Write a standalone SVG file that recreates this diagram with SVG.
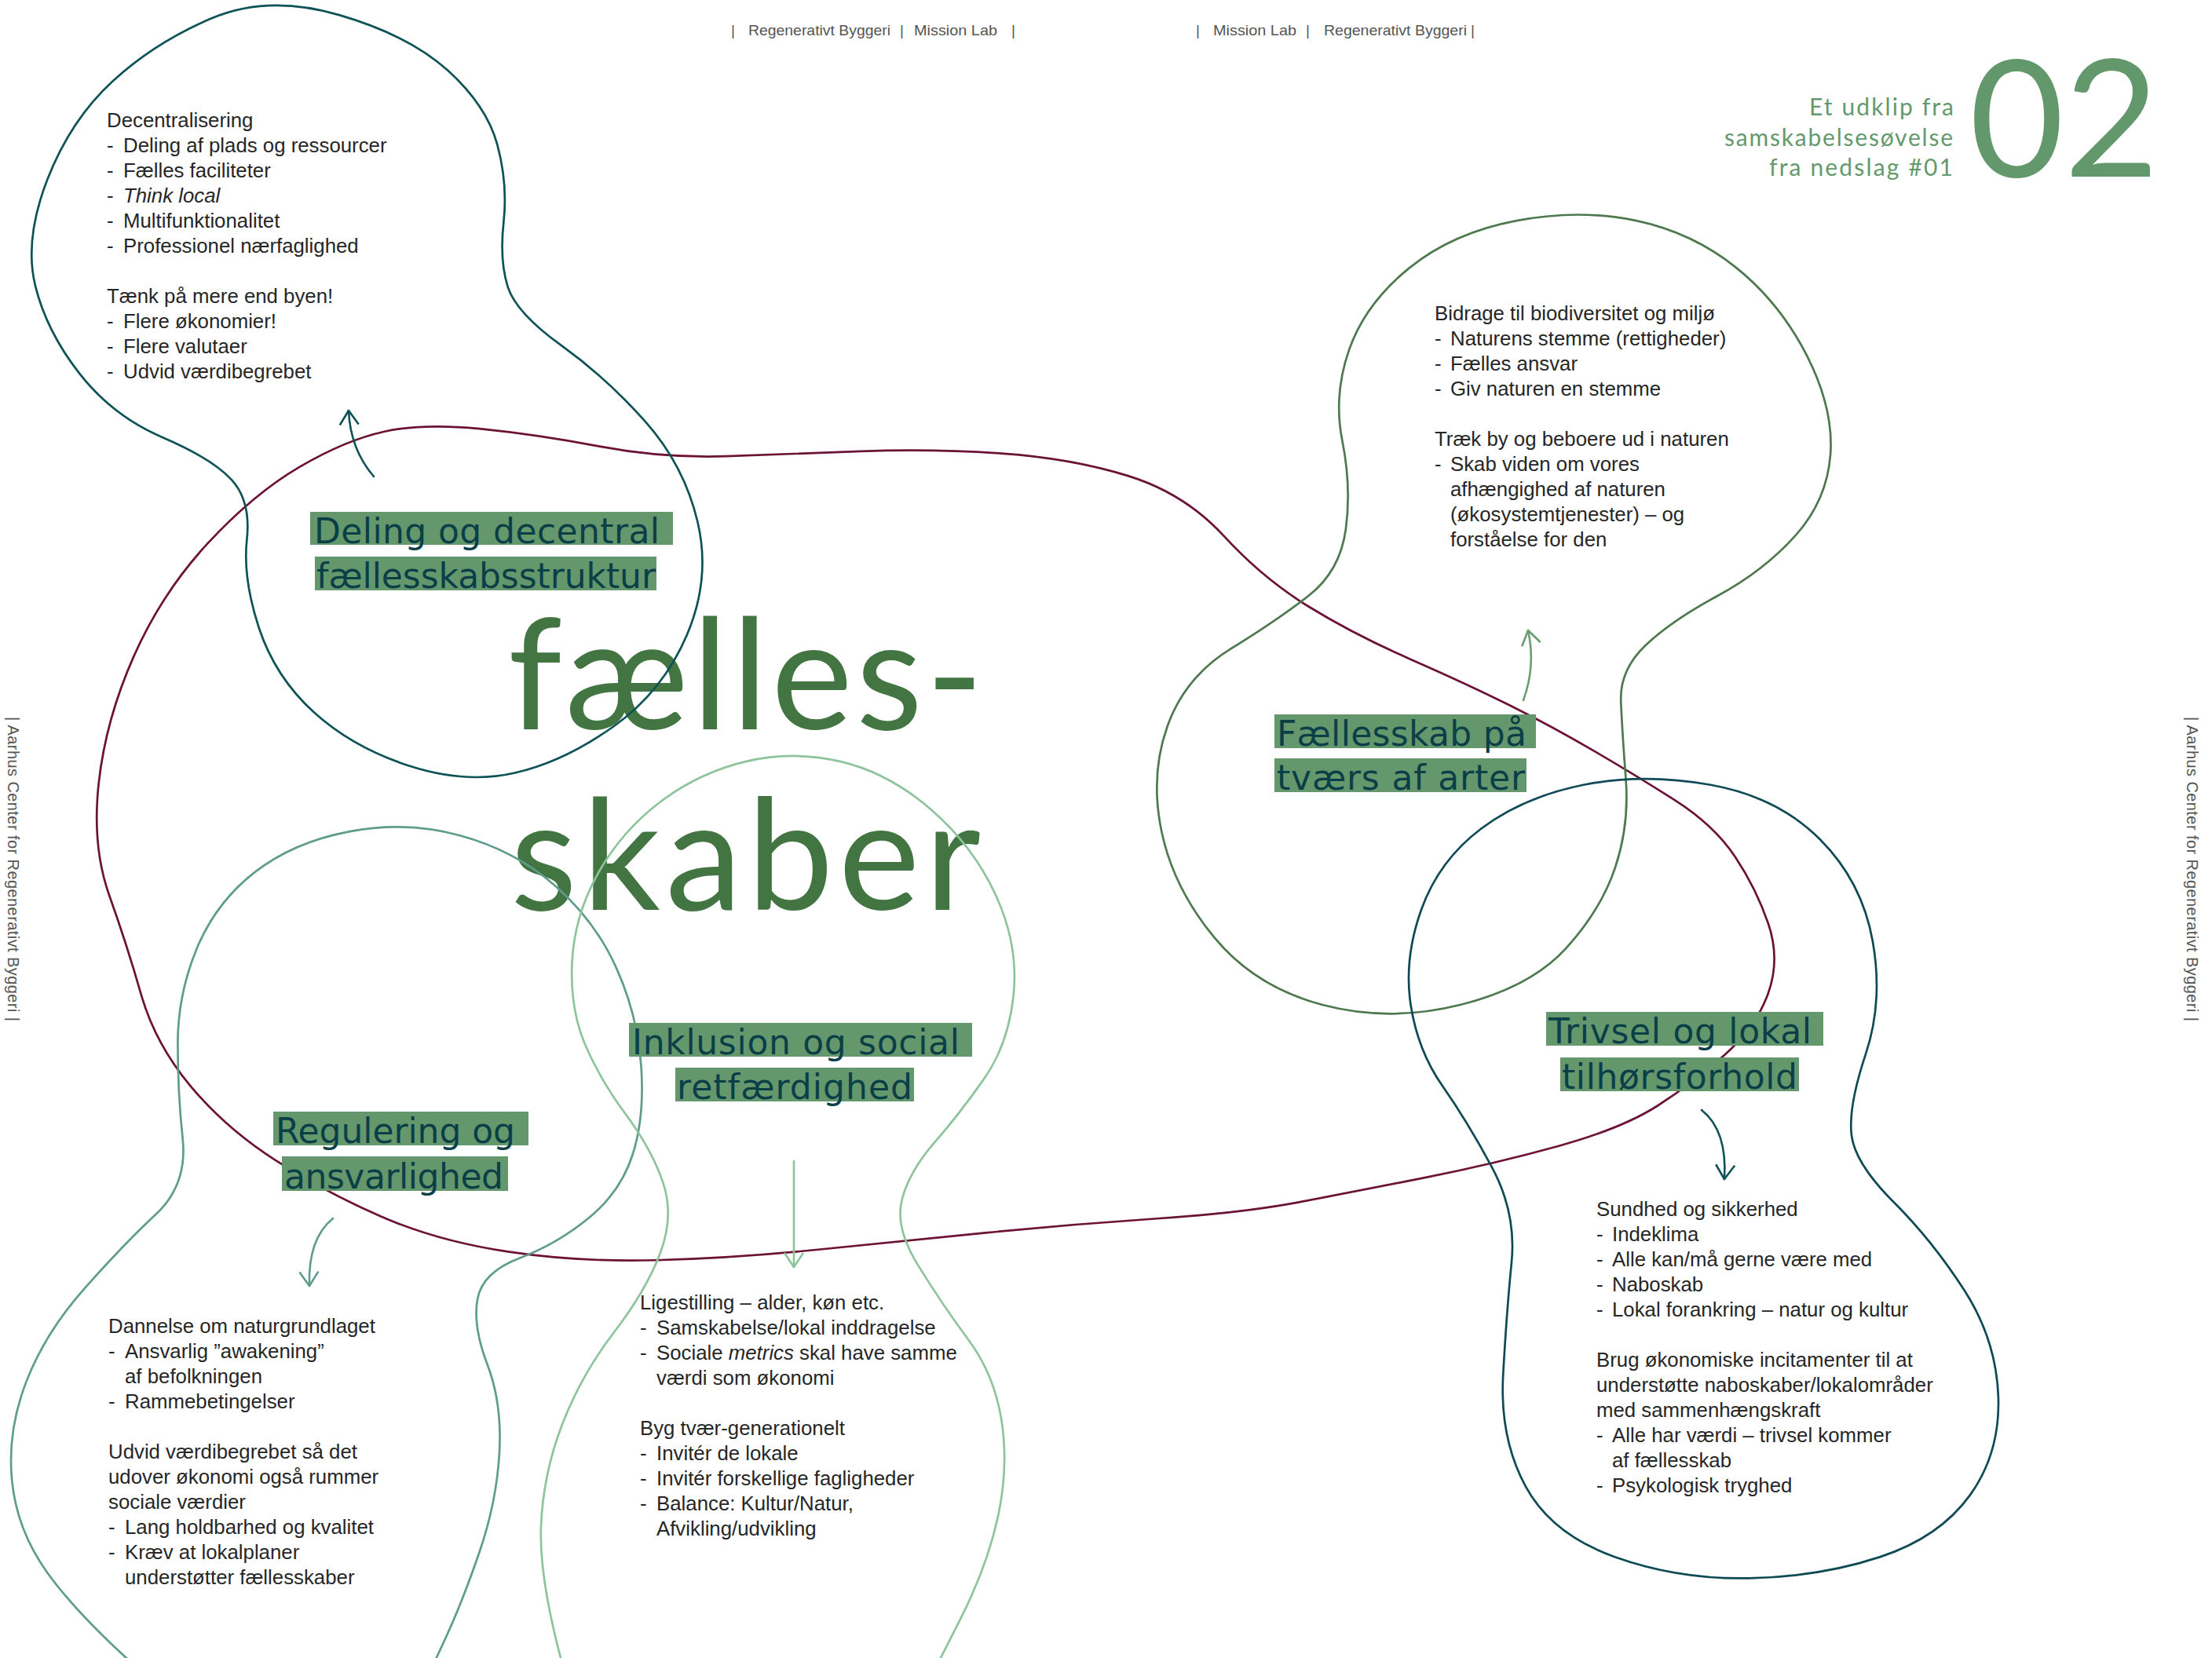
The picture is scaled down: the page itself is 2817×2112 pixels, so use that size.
<svg xmlns="http://www.w3.org/2000/svg" width="2817" height="2112" viewBox="0 0 2817 2112">
<defs>
<style>
.body{font-family:"Liberation Sans",Arial,sans-serif;font-size:25.8px;fill:#262626}
.hdr{font-family:"Liberation Sans",Arial,sans-serif;font-size:19px;fill:#555555}
.side{font-family:"Liberation Sans",Arial,sans-serif;font-size:20px;fill:#555555}
.lbg{fill:#65976d}
.lbl{font-family:"DejaVu Sans","Noto Sans",sans-serif;font-size:44px;fill:#0b3f48}
.big{font-family:Lato,"Noto Sans",sans-serif;font-size:196px;fill:#437543}
.sub{font-family:Lato,"Noto Sans",sans-serif;font-size:30px;fill:#64996d}
.ol{fill:none;stroke-width:1.5;stroke-linejoin:round}
.arr{fill:none;stroke-width:2.6;stroke-linecap:round}
</style>
<marker id="ah-teal" viewBox="0 0 24 28" refX="20" refY="14" markerWidth="24" markerHeight="28" markerUnits="userSpaceOnUse" orient="auto"><path d="M2,2 L20,14 L2,26" fill="none" stroke="#0d5257" stroke-width="2.6" stroke-linejoin="round"/></marker>
<marker id="ah-green" viewBox="0 0 24 28" refX="20" refY="14" markerWidth="24" markerHeight="28" markerUnits="userSpaceOnUse" orient="auto"><path d="M2,2 L20,14 L2,26" fill="none" stroke="#6a9e70" stroke-width="2.6" stroke-linejoin="round"/></marker>
<marker id="ah-light" viewBox="0 0 24 28" refX="20" refY="14" markerWidth="24" markerHeight="28" markerUnits="userSpaceOnUse" orient="auto"><path d="M2,2 L20,14 L2,26" fill="none" stroke="#8cc39b" stroke-width="2.6" stroke-linejoin="round"/></marker>
<marker id="ah-tg" viewBox="0 0 24 28" refX="20" refY="14" markerWidth="24" markerHeight="28" markerUnits="userSpaceOnUse" orient="auto"><path d="M2,2 L20,14 L2,26" fill="none" stroke="#5e9c8b" stroke-width="2.6" stroke-linejoin="round"/></marker>
</defs>
<rect width="2817" height="2112" fill="#ffffff"/>

<g id="header">
<text class="hdr" x="931" y="45">|</text>
<text class="hdr" x="953" y="45" textLength="181" lengthAdjust="spacingAndGlyphs">Regenerativt Byggeri</text>
<text class="hdr" x="1146" y="45">|</text>
<text class="hdr" x="1164" y="45" textLength="106" lengthAdjust="spacingAndGlyphs">Mission Lab</text>
<text class="hdr" x="1288" y="45">|</text>
<text class="hdr" x="1523" y="45">|</text>
<text class="hdr" x="1545" y="45" textLength="106" lengthAdjust="spacingAndGlyphs">Mission Lab</text>
<text class="hdr" x="1663" y="45">|</text>
<text class="hdr" x="1686" y="45" textLength="182" lengthAdjust="spacingAndGlyphs">Regenerativt Byggeri</text>
<text class="hdr" x="1873" y="45">|</text>
<text class="side" x="10" y="913" transform="rotate(90 10 913)" textLength="388" lengthAdjust="spacing">|  Aarhus Center for Regenerativt Byggeri  |</text>
<text class="side" x="2785" y="913" transform="rotate(90 2785 913)" textLength="388" lengthAdjust="spacing">|  Aarhus Center for Regenerativt Byggeri  |</text>
</g>

<g id="title">
<text x="2508" y="225" style="font-family:Lato,'Noto Sans',sans-serif;font-size:208px;fill:#63986c">02</text>
<text class="sub" x="2304" y="147" textLength="184" lengthAdjust="spacing">Et udklip fra</text>
<text class="sub" x="2196" y="186" textLength="291" lengthAdjust="spacing">samskabelsesøvelse</text>
<text class="sub" x="2253" y="224" textLength="234" lengthAdjust="spacing">fra nedslag #01</text>
<text class="big" x="647" y="929" textLength="605" lengthAdjust="spacing">fælles-</text>
<text class="big" x="650" y="1159" textLength="599" lengthAdjust="spacing">skaber</text>
</g>

<g id="outlines" transform="scale(1.79656)">
<path id="loop-faellesskaber" class="ol" stroke="#6b1236" d="M 272.5,306 Q 300,300 340,304 Q 380,308 425,316.5 Q 470,325 515,323.5 Q 560,322 610,320 Q 660,318 710,321.5 Q 760,325 800,337.5 Q 840,350 867.5,380 Q 895,410 927.5,430 Q 960,450 1000,467.5 Q 1040,485 1070,500 Q 1100,515 1130,532.5 Q 1160,550 1187.5,567.5 Q 1215,585 1230,607.5 Q 1245,630 1253.5,655 Q 1262,680 1253.5,704 Q 1245,728 1222.5,748 Q 1200,768 1175,784 Q 1150,800 1105,812.5 Q 1060,825 1010,835 Q 960,845 920,852.5 Q 880,860 820,864 Q 760,868 700,874 Q 640,880 580,886 Q 520,892 465,893.5 Q 410,895 360,887.5 Q 310,880 270,862.5 Q 230,845 195,822.5 Q 160,800 135,770 Q 110,740 100,705 Q 90,670 77.5,635 Q 65,600 70,555 Q 75,510 95,465 Q 115,420 147.5,385 Q 180,350 212.5,331 Q 245,312 272.5,306 Z"/>
<path id="blob-deling" class="ol" stroke="#0d5257" d="M 150,13 Q 190,-4 240,10.5 Q 290,25 317.5,50 Q 345,75 352.5,102.5 Q 360,130 357,157.5 Q 354,185 360,203.5 Q 366,222 398,245 Q 430,268 457.5,299 Q 485,330 494.5,370 Q 504,410 487,450 Q 470,490 435,515 Q 400,540 365,548 Q 330,556 290,543 Q 250,530 222.5,505 Q 195,480 183.5,445 Q 172,410 175,382.5 Q 178,355 164,340 Q 150,325 115,310 Q 80,295 56.5,265 Q 33,235 25,202.5 Q 17,170 33.5,127.5 Q 50,85 80,57.5 Q 110,30 150,13 Z"/>
<path id="blob-arter" class="ol" stroke="#4e784e" d="M 1075,156.5 Q 1120,148 1160,156.5 Q 1200,165 1231,190 Q 1262,215 1281,252.5 Q 1300,290 1297.5,322.5 Q 1295,355 1272.5,380 Q 1250,405 1217.5,422.5 Q 1185,440 1166.5,457.5 Q 1148,475 1149,497.5 Q 1150,520 1152.5,552.5 Q 1155,585 1145,615 Q 1135,645 1110,672.5 Q 1085,700 1035,712.5 Q 985,725 937.5,712.5 Q 890,700 861,665 Q 832,630 823.5,590 Q 815,550 827.5,515 Q 840,480 872.5,460 Q 905,440 927.5,422.5 Q 950,405 954,375 Q 958,345 951.5,312.5 Q 945,280 956.5,247.5 Q 968,215 999,190 Q 1030,165 1075,156.5 Z"/>
<path id="blob-trivsel" class="ol" stroke="#0e4a55" d="M 1122.5,556.5 Q 1165,548 1212.5,556.5 Q 1260,565 1290,595 Q 1320,625 1327.5,667.5 Q 1335,710 1322.5,747.5 Q 1310,785 1312.5,805 Q 1315,825 1342.5,852.5 Q 1370,880 1392.5,915 Q 1415,950 1416.5,990 Q 1418,1030 1396.5,1060 Q 1375,1090 1332.5,1104 Q 1290,1118 1240,1119 Q 1190,1120 1145,1104 Q 1100,1088 1081.5,1054 Q 1063,1020 1065.5,975 Q 1068,930 1071.5,895 Q 1075,860 1057.5,827.5 Q 1040,795 1022.5,770 Q 1005,745 1000,712.5 Q 995,680 1007.5,645 Q 1020,610 1050,587.5 Q 1080,565 1122.5,556.5 Z"/>
<path id="blob-regulering" class="ol" stroke="#5e9c8b" d="M 100,1185 Q 55,1145 33.5,1115 Q 12,1085 8.5,1050 Q 5,1015 18.5,980 Q 32,945 60,913.5 Q 88,882 110.5,861 Q 133,840 129.5,807.5 Q 126,775 126,740 Q 126,705 139.5,672.5 Q 153,640 180.5,618.5 Q 208,597 248,589.5 Q 288,582 326.5,592.5 Q 365,603 393.5,628 Q 422,653 437,686.5 Q 452,720 454.5,756 Q 457,792 448.5,818.5 Q 440,845 417.5,863.5 Q 395,882 368.5,892 Q 342,902 338.5,921 Q 335,940 345.5,967.5 Q 356,995 354,1030 Q 352,1065 340,1100 Q 328,1135 316.5,1160 L 305,1185"/>
<path id="blob-inklusion" class="ol" stroke="#8ec49c" d="M 400,1185 Q 382,1120 383.5,1082.5 Q 385,1045 398.5,1010 Q 412,975 435,945 Q 458,915 468,888.5 Q 478,862 470,838.5 Q 462,815 443.5,790 Q 425,765 414.5,740 Q 404,715 405.5,682.5 Q 407,650 423.5,620 Q 440,590 467.5,569 Q 495,548 528.5,540 Q 562,532 596,540 Q 630,548 660,574 Q 690,600 706,635 Q 722,670 718.5,705 Q 715,740 697.5,765 Q 680,790 662.5,810 Q 645,830 639.5,850 Q 634,870 651,897.5 Q 668,925 686.5,950 Q 705,975 710,1007.5 Q 715,1040 707.5,1075 Q 700,1110 681,1147.5 L 662,1185"/>
</g>

<g id="node-deling">
<rect class="lbg" x="395" y="652" width="462" height="42"/>
<rect class="lbg" x="401" y="709" width="435" height="43"/>
<text class="lbl" x="400" y="692" textLength="440" lengthAdjust="spacing">Deling og decentral</text>
<text class="lbl" x="403" y="749" textLength="432" lengthAdjust="spacing">fællesskabsstruktur</text>
<text class="body" x="136" y="162">Decentralisering</text>
<text class="body" x="136" y="194">-<tspan x="157">Deling af plads og ressourcer</tspan></text>
<text class="body" x="136" y="226">-<tspan x="157">Fælles faciliteter</tspan></text>
<text class="body" x="136" y="258">-<tspan x="157" font-style="italic">Think local</tspan></text>
<text class="body" x="136" y="290">-<tspan x="157">Multifunktionalitet</tspan></text>
<text class="body" x="136" y="322">-<tspan x="157">Professionel nærfaglighed</tspan></text>
<text class="body" x="136" y="386">Tænk på mere end byen!</text>
<text class="body" x="136" y="418">-<tspan x="157">Flere økonomier!</tspan></text>
<text class="body" x="136" y="450">-<tspan x="157">Flere valutaer</tspan></text>
<text class="body" x="136" y="482">-<tspan x="157">Udvid værdibegrebet</tspan></text>
</g>

<g id="node-arter">
<rect class="lbg" x="1623" y="910" width="333" height="43"/>
<rect class="lbg" x="1623" y="966" width="321" height="43"/>
<text class="lbl" x="1626" y="950" textLength="318" lengthAdjust="spacing">Fællesskab på</text>
<text class="lbl" x="1626" y="1006" textLength="316" lengthAdjust="spacing">tværs af arter</text>
<text class="body" x="1827" y="408">Bidrage til biodiversitet og miljø</text>
<text class="body" x="1827" y="440">-<tspan x="1847">Naturens stemme (rettigheder)</tspan></text>
<text class="body" x="1827" y="472">-<tspan x="1847">Fælles ansvar</tspan></text>
<text class="body" x="1827" y="504">-<tspan x="1847">Giv naturen en stemme</tspan></text>
<text class="body" x="1827" y="568">Træk by og beboere ud i naturen</text>
<text class="body" x="1827" y="600">-<tspan x="1847">Skab viden om vores</tspan></text>
<text class="body" x="1847" y="632">afhængighed af naturen</text>
<text class="body" x="1847" y="664">(økosystemtjenester) – og</text>
<text class="body" x="1847" y="696">forståelse for den</text>
</g>

<g id="node-trivsel">
<rect class="lbg" x="1969" y="1289" width="353" height="43"/>
<rect class="lbg" x="1987" y="1347" width="304" height="43"/>
<text class="lbl" x="1972" y="1329" textLength="335" lengthAdjust="spacing">Trivsel og lokal</text>
<text class="lbl" x="1989" y="1387" textLength="300" lengthAdjust="spacing">tilhørsforhold</text>
<text class="body" x="2033" y="1549">Sundhed og sikkerhed</text>
<text class="body" x="2033" y="1581">-<tspan x="2053">Indeklima</tspan></text>
<text class="body" x="2033" y="1613">-<tspan x="2053">Alle kan/må gerne være med</tspan></text>
<text class="body" x="2033" y="1645">-<tspan x="2053">Naboskab</tspan></text>
<text class="body" x="2033" y="1677">-<tspan x="2053">Lokal forankring – natur og kultur</tspan></text>
<text class="body" x="2033" y="1741">Brug økonomiske incitamenter til at</text>
<text class="body" x="2033" y="1773">understøtte naboskaber/lokalområder</text>
<text class="body" x="2033" y="1805">med sammenhængskraft</text>
<text class="body" x="2033" y="1837">-<tspan x="2053">Alle har værdi – trivsel kommer</tspan></text>
<text class="body" x="2053" y="1869">af fællesskab</text>
<text class="body" x="2033" y="1901">-<tspan x="2053">Psykologisk tryghed</tspan></text>
</g>

<g id="node-inklusion">
<rect class="lbg" x="801" y="1303" width="437" height="43"/>
<rect class="lbg" x="860" y="1360" width="304" height="43"/>
<text class="lbl" x="805" y="1343" textLength="417" lengthAdjust="spacing">Inklusion og social</text>
<text class="lbl" x="862" y="1400" textLength="300" lengthAdjust="spacing">retfærdighed</text>
<text class="body" x="815" y="1668">Ligestilling – alder, køn etc.</text>
<text class="body" x="815" y="1700">-<tspan x="836">Samskabelse/lokal inddragelse</tspan></text>
<text class="body" x="815" y="1732">-<tspan x="836">Sociale </tspan><tspan font-style="italic">metrics</tspan> skal have samme</text>
<text class="body" x="836" y="1764">værdi som økonomi</text>
<text class="body" x="815" y="1828">Byg tvær-generationelt</text>
<text class="body" x="815" y="1860">-<tspan x="836">Invitér de lokale</tspan></text>
<text class="body" x="815" y="1892">-<tspan x="836">Invitér forskellige fagligheder</tspan></text>
<text class="body" x="815" y="1924">-<tspan x="836">Balance: Kultur/Natur,</tspan></text>
<text class="body" x="836" y="1956">Afvikling/udvikling</text>
</g>

<g id="node-regulering">
<rect class="lbg" x="348" y="1416" width="325" height="43"/>
<rect class="lbg" x="359" y="1473" width="288" height="44"/>
<text class="lbl" x="351" y="1456" textLength="305" lengthAdjust="spacing">Regulering og</text>
<text class="lbl" x="362" y="1514" textLength="279" lengthAdjust="spacing">ansvarlighed</text>
<text class="body" x="138" y="1698">Dannelse om naturgrundlaget</text>
<text class="body" x="138" y="1730">-<tspan x="159">Ansvarlig ”awakening”</tspan></text>
<text class="body" x="159" y="1762">af befolkningen</text>
<text class="body" x="138" y="1794">-<tspan x="159">Rammebetingelser</tspan></text>
<text class="body" x="138" y="1858">Udvid værdibegrebet så det</text>
<text class="body" x="138" y="1890">udover økonomi også rummer</text>
<text class="body" x="138" y="1922">sociale værdier</text>
<text class="body" x="138" y="1954">-<tspan x="159">Lang holdbarhed og kvalitet</tspan></text>
<text class="body" x="138" y="1986">-<tspan x="159">Kræv at lokalplaner</tspan></text>
<text class="body" x="159" y="2018">understøtter fællesskaber</text>
</g>

<g id="connectors">
<path class="arr" stroke="#0d5257" marker-end="url(#ah-teal)" d="M 476,607 Q 446,572 444,523"/>
<path class="arr" stroke="#6a9e70" marker-end="url(#ah-green)" d="M 1940,892 Q 1956,848 1946,803"/>
<path class="arr" stroke="#0d5257" marker-end="url(#ah-teal)" d="M 2167,1414 Q 2200,1440 2196,1502"/>
<path class="arr" stroke="#8cc39b" marker-end="url(#ah-light)" d="M 1011,1479 L 1011,1614"/>
<path class="arr" stroke="#5e9c8b" marker-end="url(#ah-tg)" d="M 424,1552 Q 392,1578 394,1638"/>
</g>
</svg>
